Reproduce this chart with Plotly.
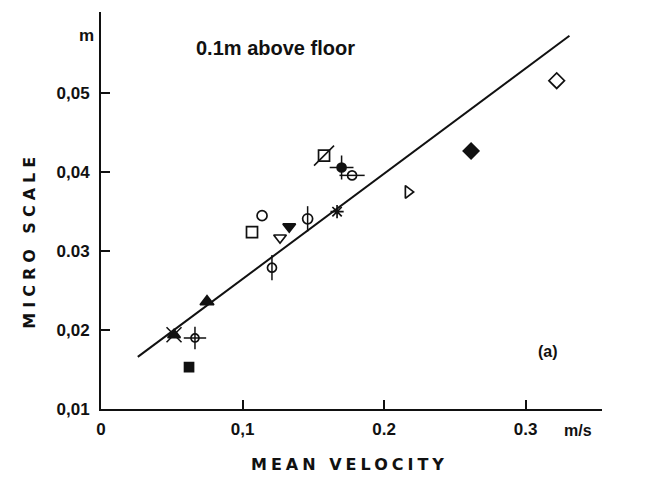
import plotly.graph_objects as go

# ---- data ----
velocity = [0.1576, 0.170, 0.1774, 0.1138, 0.1067, 0.1265, 0.133, 0.146, 0.1668,
            0.1208, 0.0749, 0.0516, 0.0664, 0.0622, 0.217, 0.2615, 0.322]
micro_scale = [0.0421, 0.0406, 0.0396, 0.0345, 0.0324, 0.0317, 0.0331, 0.0341, 0.0350,
               0.0279, 0.0236, 0.0194, 0.0190, 0.0153, 0.0375, 0.0427, 0.0516]
fit_velocity = [0.026, 0.331]
fit_micro_scale = [0.0166, 0.0573]

x_tick_vals = [0, 0.1, 0.2, 0.3]
x_tick_text = ["0", "0,1", "0.2", "0.3"]
y_tick_vals = [0.01, 0.02, 0.03, 0.04, 0.05]
y_tick_text = ["0,01", "0,02", "0.03", "0,04", "0,05"]

# ---- marker styles (one per point) ----
base_symbols = ["square-open", "circle", "circle-open", "circle-open", "square-open",
                "triangle-down-open", "triangle-down", "circle-open", "asterisk-open",
                "circle-open", "triangle-up", "triangle-up", "circle-open", "square",
                "triangle-right-open", "diamond", "diamond-open"]
base_sizes = [11, 9, 9, 10, 11, 11, 11, 10, 11, 9, 12, 11, 8, 9, 11, 12, 12]
over_symbols = ["line-ne-open", "cross-thin-open", "line-ew-open", None, None,
                None, None, "line-ns-open", None, "line-ns-open", None,
                "x-thin-open", "cross-thin-open", None, None, None, None]
over_sizes = [20, 17, 18, 0, 0, 0, 0, 18, 0, 18, 0, 15, 16, 0, 0, 0, 0]

INK = "#111111"

fig = go.Figure()

fig.add_trace(go.Scatter(
    x=fit_velocity, y=fit_micro_scale, mode="lines",
    line=dict(color=INK, width=2), showlegend=False, hoverinfo="skip"))

ox = [v for v, s in zip(velocity, over_symbols) if s]
oy = [m for m, s in zip(micro_scale, over_symbols) if s]
osym = [s for s in over_symbols if s]
osz = [z for z, s in zip(over_sizes, over_symbols) if s]
fig.add_trace(go.Scatter(
    x=ox, y=oy, mode="markers",
    marker=dict(symbol=osym, size=osz, color=INK, opacity=1,
                line=dict(color=INK, width=1.5)),
    showlegend=False, cliponaxis=False))

fig.add_trace(go.Scatter(
    x=velocity, y=micro_scale, mode="markers",
    marker=dict(symbol=base_symbols, size=base_sizes, color=INK, opacity=1,
                line=dict(color=INK, width=1.7)),
    showlegend=False, cliponaxis=False))

tick_font = dict(family="Liberation Sans", size=17, color=INK)
title_font = dict(family="DejaVu Sans", size=16, color=INK)

fig.update_layout(
    width=649, height=477,
    margin=dict(l=101, r=47, t=12, b=68),
    paper_bgcolor="white", plot_bgcolor="white",
    xaxis=dict(range=[0, 0.354], tickvals=x_tick_vals,
               ticktext=["<b>%s</b>" % t for t in x_tick_text],
               showline=True, linecolor=INK, linewidth=2,
               ticks="inside", ticklen=9, tickwidth=1.5, tickcolor=INK,
               showgrid=False, zeroline=False, tickfont=tick_font,
               ticklabelstandoff=4, automargin=False),
    yaxis=dict(range=[0.01, 0.0603], tickvals=y_tick_vals,
               ticktext=["<b>%s</b>" % t for t in y_tick_text],
               showline=True, linecolor=INK, linewidth=2,
               ticks="inside", ticklen=9, tickwidth=1.5, tickcolor=INK,
               showgrid=False, zeroline=False, tickfont=tick_font,
               ticklabelstandoff=6, automargin=False),
)

# axis titles
fig.add_annotation(x=0.497, y=-0.14, xref="paper", yref="paper",
                   xanchor="center", yanchor="middle",
                   text='<b><span style="letter-spacing:4px">MEAN VELOCITY</span></b>',
                   showarrow=False, font=title_font)
fig.add_annotation(x=-0.142, y=0.426, xref="paper", yref="paper", textangle=-90,
                   xanchor="center", yanchor="middle",
                   text='<b><span style="letter-spacing:5px">MICRO SCALE</span></b>',
                   showarrow=False, font=title_font)

fig.add_annotation(x=0.066, y=0.0558, xref="x", yref="y", xanchor="left",
                   text="<b>0.1m above floor</b>", showarrow=False,
                   font=dict(family="Liberation Sans", size=20, color=INK))
fig.add_annotation(x=0.316, y=0.0173, xref="x", yref="y",
                   text="<b>(a)</b>", showarrow=False,
                   font=dict(family="Liberation Sans", size=16, color=INK))
fig.add_annotation(x=-0.01, y=0.0573, xref="paper", yref="y", xanchor="right",
                   text="<b>m</b>", showarrow=False,
                   font=dict(family="Liberation Sans", size=17, color=INK))
fig.add_annotation(x=0.337, y=-0.028, xref="x", yref="paper", yanchor="top",
                   text="<b>m/s</b>", showarrow=False,
                   font=dict(family="Liberation Sans", size=16, color=INK))

fig.write_html("out.html")
